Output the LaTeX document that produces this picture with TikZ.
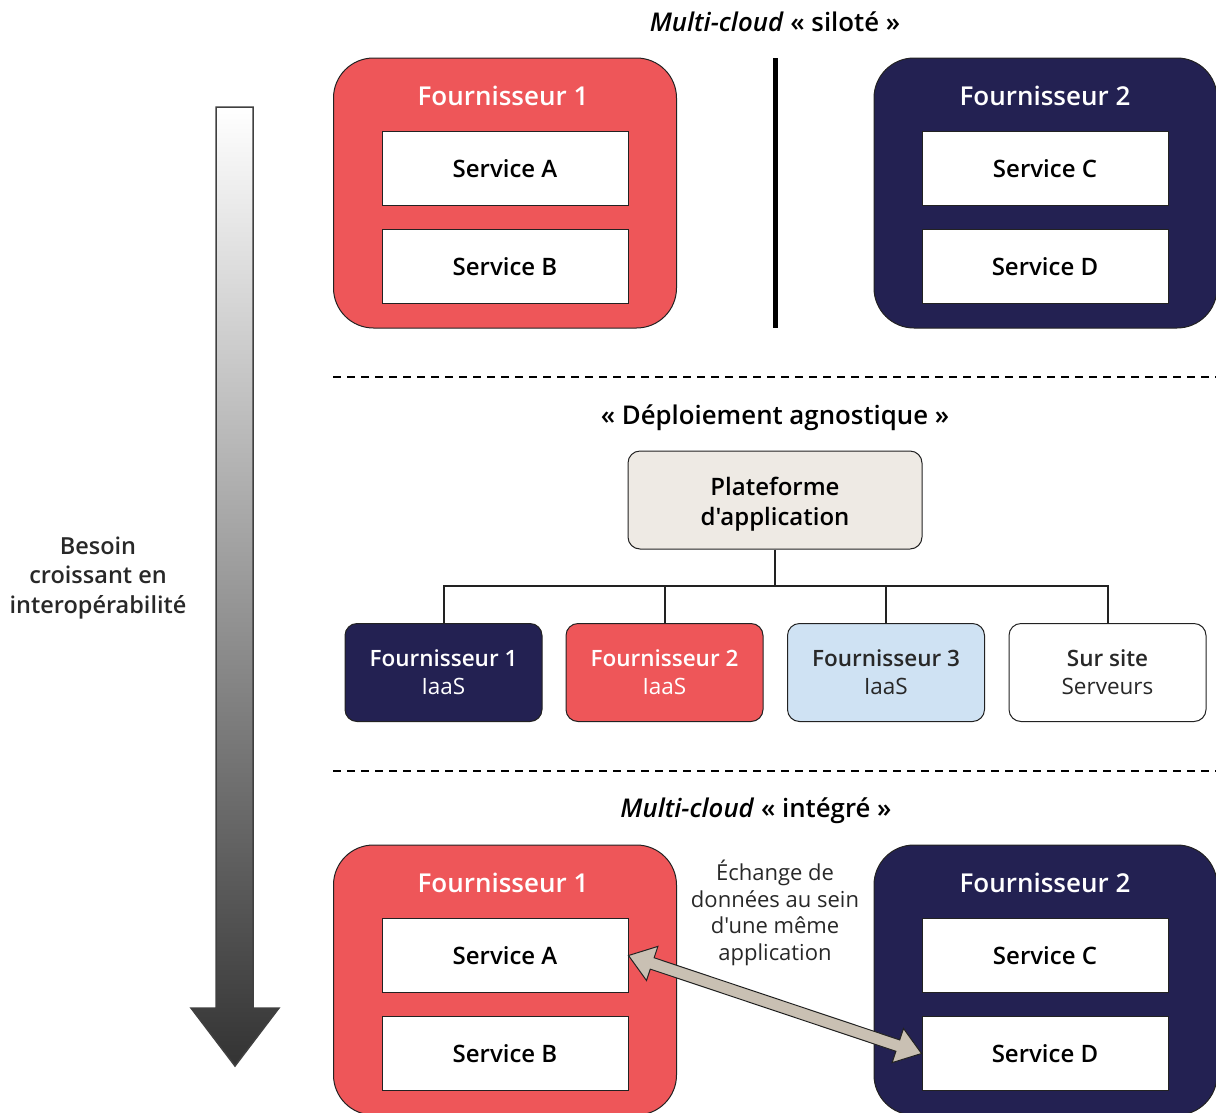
\documentclass[tikz,border=0pt]{standalone}
\usepackage{fontspec}
\setmainfont{Open Sans}[Ligatures=TeXOff,BoldFont={Open Sans Semibold},BoldItalicFont={Open Sans Semibold Italic}]
\usetikzlibrary{calc}
\definecolor{cred}{RGB}{238,86,89}
\definecolor{cnavy}{RGB}{35,33,82}
\definecolor{cblue}{RGB}{207,226,243}
\definecolor{cbeige}{RGB}{238,234,228}
\definecolor{carrow}{RGB}{201,192,179}
\definecolor{cline}{RGB}{34,34,34}
\definecolor{ctext}{RGB}{40,40,40}
\begin{document}
\begin{tikzpicture}[x=1pt,y=-1pt,
  provider/.style={draw=cline, line width=1pt, rounded corners=40pt, minimum width=343pt, minimum height=270pt, inner sep=0pt},
  hdr/.style={text=white, font=\bfseries\fontsize{26}{30}\selectfont, inner sep=0pt},
  service/.style={draw=cline, line width=1pt, fill=white, minimum width=246pt, minimum height=74pt, inner sep=0pt, font=\bfseries\fontsize{24}{28}\selectfont},
  title/.style={font=\bfseries\fontsize{25.8}{30}\selectfont, inner sep=0pt},
  sep/.style={line width=1.5pt, dash pattern=on 8pt off 6pt},
  platbox/.style={draw=cline, line width=1pt, rounded corners=12pt, minimum width=197pt, minimum height=98pt, inner sep=0pt, align=center, font=\fontsize{22.5}{28}\selectfont},
  tree/.style={line width=2pt, cline},
  note/.style={align=center, inner sep=0pt, text=ctext, font=\fontsize{22}{26.7}\selectfont}
]
\useasboundingbox (0,0) rectangle (1216,1112);

% ---------- Multi-cloud siloté ----------
\node[title] (t1) at (775,22) {\textit{Multi-cloud} « siloté »};
\node[provider, fill=cred] (p1a) at (505,193) {};
\node[hdr] (h1a) at (503,96) {Fournisseur 1};
\node[service] (sa1) at (505,168.5) {Service A};
\node[service] (sb1) at (505,266.5) {Service B};

\node[provider, fill=cnavy] (p2a) at (1045.5,193) {};
\node[hdr] (h2a) at (1045,96) {Fournisseur 2};
\node[service] (sc1) at (1045,168.5) {Service C};
\node[service] (sd1) at (1045,266.5) {Service D};

\coordinate (wallt) at (775,58);
\coordinate (wallb) at (775,328);
\draw[line width=5pt] (wallt) -- (wallb);

\coordinate (s1l) at (333,377);
\coordinate (s1r) at (1216,377);
\draw[sep] (s1l) -- (s1r);

% ---------- Déploiement agnostique ----------
\node[title] (t2) at (775,418) {« Déploiement agnostique »};
\node[platbox, fill=cbeige, minimum width=294pt, font=\bfseries\fontsize{24}{30}\selectfont] (plat) at (775,500) {\rule{0pt}{26pt}Plateforme\\d'application};

\node[platbox, fill=cnavy, text=white] (q1) at (443.5,672.5) {{\bfseries Fournisseur 1}\\IaaS};
\node[platbox, fill=cred, text=white] (q2) at (664.5,672.5) {{\bfseries Fournisseur 2}\\IaaS};
\node[platbox, fill=cblue, text=ctext] (q3) at (886,672.5) {{\bfseries Fournisseur 3}\\IaaS};
\node[platbox, fill=white, text=ctext] (q4) at (1107.5,672.5) {{\bfseries Sur site}\\Serveurs};

\coordinate (jn) at (775,586);
\draw[tree] (plat.south) -- (jn);
\draw[tree] (q1.north) |- (jn);
\draw[tree] (q2.north) |- (jn);
\draw[tree] (q3.north) |- (jn);
\draw[tree] (q4.north) |- (jn);

\coordinate (s2l) at (333,771);
\coordinate (s2r) at (1216,771);
\draw[sep] (s2l) -- (s2r);

% ---------- Multi-cloud intégré ----------
\node[title] (t3) at (756,811) {\textit{Multi-cloud} « intégré »};
\node[provider, fill=cred] (p1b) at (505,980) {};
\node[hdr] (h1b) at (503,883) {Fournisseur 1};
\node[service] (sa2) at (505,955.5) {Service A};
\node[service] (sb2) at (505,1053.5) {Service B};

\node[provider, fill=cnavy] (p2b) at (1045.5,980) {};
\node[hdr] (h2b) at (1045,883) {Fournisseur 2};
\node[service] (sc2) at (1045,955.5) {Service C};
\node[service] (sd2) at (1045,1053.5) {Service D};

\node[note] (lbl) at (775,913) {Échange de\\données au sein\\d'une même\\application};

% double arrow between Service A and Service D
\coordinate (ea) at (sa2.east);
\coordinate (eb) at (sd2.west);
\coordinate (ha) at ($(ea)!25pt!(eb)$);
\coordinate (hb) at ($(eb)!25pt!(ea)$);
\filldraw[fill=carrow, draw=cline, line width=1pt, line join=miter]
  (ea) -- ($(ha)!18pt!90:(eb)$) -- ($(ha)!6pt!90:(eb)$)
  -- ($(hb)!6pt!-90:(ea)$) -- ($(hb)!18pt!-90:(ea)$) -- (eb)
  -- ($(hb)!18pt!90:(ea)$) -- ($(hb)!6pt!90:(ea)$)
  -- ($(ha)!6pt!-90:(eb)$) -- ($(ha)!18pt!-90:(eb)$) -- cycle;

% ---------- growing interoperability arrow ----------
\shadedraw[top color=white, bottom color=black!80, draw=black!75, line width=1.5pt, line join=miter]
  (216,107) -- (253,107) -- (253,1008) -- (279,1008) -- (235,1066)
  -- (191,1008) -- (216,1008) -- cycle;
\node[align=center, inner sep=0pt, text=ctext, font=\bfseries\fontsize{23.5}{29.5}\selectfont] (need) at (98,578) {Besoin\\croissant en\\interopérabilité};
\end{tikzpicture}
\end{document}
